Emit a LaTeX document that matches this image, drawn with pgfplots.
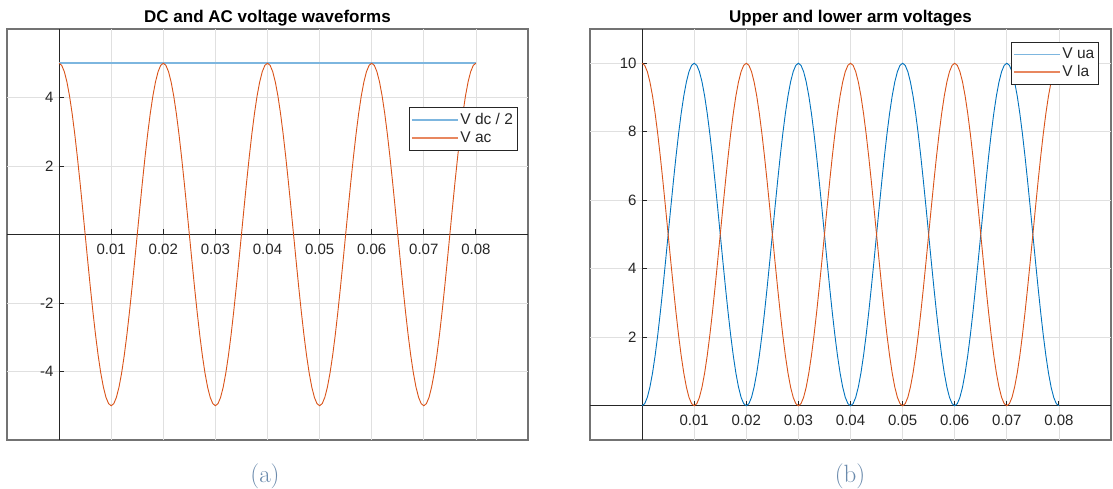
\documentclass[border=0pt]{standalone}
\usepackage{pgfplots}
\pgfplotsset{compat=1.18}
\usepackage{pgfplotstable}
\usepackage{fontspec}
\newfontfamily\arial{Liberation Sans}
\definecolor{mblue}{HTML}{0072BD}
\definecolor{morange}{HTML}{D95319}
\definecolor{lblue}{HTML}{7DB6DF}
\definecolor{lorange}{HTML}{E8875F}
\definecolor{capcol}{HTML}{6A8AAC}
\definecolor{txt}{HTML}{262626}

% t, V_ac, V_ua, V_la  (50 Hz, sampled every 0.5 ms)
\pgfplotstableread{
t vac vua vla
0 5 0 10
0.0005 4.9384 0.0616 9.9384
0.001 4.7553 0.2447 9.7553
0.0015 4.4550 0.5450 9.4550
0.002 4.0451 0.9549 9.0451
0.0025 3.5355 1.4645 8.5355
0.003 2.9389 2.0611 7.9389
0.0035 2.2700 2.7300 7.2700
0.004 1.5451 3.4549 6.5451
0.0045 0.7822 4.2178 5.7822
0.005 0 5 5
0.0055 -0.7822 5.7822 4.2178
0.006 -1.5451 6.5451 3.4549
0.0065 -2.2700 7.2700 2.7300
0.007 -2.9389 7.9389 2.0611
0.0075 -3.5355 8.5355 1.4645
0.008 -4.0451 9.0451 0.9549
0.0085 -4.4550 9.4550 0.5450
0.009 -4.7553 9.7553 0.2447
0.0095 -4.9384 9.9384 0.0616
0.010 -5 10 0
0.0105 -4.9384 9.9384 0.0616
0.011 -4.7553 9.7553 0.2447
0.0115 -4.4550 9.4550 0.5450
0.012 -4.0451 9.0451 0.9549
0.0125 -3.5355 8.5355 1.4645
0.013 -2.9389 7.9389 2.0611
0.0135 -2.2700 7.2700 2.7300
0.014 -1.5451 6.5451 3.4549
0.0145 -0.7822 5.7822 4.2178
0.015 0 5 5
0.0155 0.7822 4.2178 5.7822
0.016 1.5451 3.4549 6.5451
0.0165 2.2700 2.7300 7.2700
0.017 2.9389 2.0611 7.9389
0.0175 3.5355 1.4645 8.5355
0.018 4.0451 0.9549 9.0451
0.0185 4.4550 0.5450 9.4550
0.019 4.7553 0.2447 9.7553
0.0195 4.9384 0.0616 9.9384
0.020 5 0 10
0.0205 4.9384 0.0616 9.9384
0.021 4.7553 0.2447 9.7553
0.0215 4.4550 0.5450 9.4550
0.022 4.0451 0.9549 9.0451
0.0225 3.5355 1.4645 8.5355
0.023 2.9389 2.0611 7.9389
0.0235 2.2700 2.7300 7.2700
0.024 1.5451 3.4549 6.5451
0.0245 0.7822 4.2178 5.7822
0.025 0 5 5
0.0255 -0.7822 5.7822 4.2178
0.026 -1.5451 6.5451 3.4549
0.0265 -2.2700 7.2700 2.7300
0.027 -2.9389 7.9389 2.0611
0.0275 -3.5355 8.5355 1.4645
0.028 -4.0451 9.0451 0.9549
0.0285 -4.4550 9.4550 0.5450
0.029 -4.7553 9.7553 0.2447
0.0295 -4.9384 9.9384 0.0616
0.030 -5 10 0
0.0305 -4.9384 9.9384 0.0616
0.031 -4.7553 9.7553 0.2447
0.0315 -4.4550 9.4550 0.5450
0.032 -4.0451 9.0451 0.9549
0.0325 -3.5355 8.5355 1.4645
0.033 -2.9389 7.9389 2.0611
0.0335 -2.2700 7.2700 2.7300
0.034 -1.5451 6.5451 3.4549
0.0345 -0.7822 5.7822 4.2178
0.035 0 5 5
0.0355 0.7822 4.2178 5.7822
0.036 1.5451 3.4549 6.5451
0.0365 2.2700 2.7300 7.2700
0.037 2.9389 2.0611 7.9389
0.0375 3.5355 1.4645 8.5355
0.038 4.0451 0.9549 9.0451
0.0385 4.4550 0.5450 9.4550
0.039 4.7553 0.2447 9.7553
0.0395 4.9384 0.0616 9.9384
0.040 5 0 10
0.0405 4.9384 0.0616 9.9384
0.041 4.7553 0.2447 9.7553
0.0415 4.4550 0.5450 9.4550
0.042 4.0451 0.9549 9.0451
0.0425 3.5355 1.4645 8.5355
0.043 2.9389 2.0611 7.9389
0.0435 2.2700 2.7300 7.2700
0.044 1.5451 3.4549 6.5451
0.0445 0.7822 4.2178 5.7822
0.045 0 5 5
0.0455 -0.7822 5.7822 4.2178
0.046 -1.5451 6.5451 3.4549
0.0465 -2.2700 7.2700 2.7300
0.047 -2.9389 7.9389 2.0611
0.0475 -3.5355 8.5355 1.4645
0.048 -4.0451 9.0451 0.9549
0.0485 -4.4550 9.4550 0.5450
0.049 -4.7553 9.7553 0.2447
0.0495 -4.9384 9.9384 0.0616
0.050 -5 10 0
0.0505 -4.9384 9.9384 0.0616
0.051 -4.7553 9.7553 0.2447
0.0515 -4.4550 9.4550 0.5450
0.052 -4.0451 9.0451 0.9549
0.0525 -3.5355 8.5355 1.4645
0.053 -2.9389 7.9389 2.0611
0.0535 -2.2700 7.2700 2.7300
0.054 -1.5451 6.5451 3.4549
0.0545 -0.7822 5.7822 4.2178
0.055 0 5 5
0.0555 0.7822 4.2178 5.7822
0.056 1.5451 3.4549 6.5451
0.0565 2.2700 2.7300 7.2700
0.057 2.9389 2.0611 7.9389
0.0575 3.5355 1.4645 8.5355
0.058 4.0451 0.9549 9.0451
0.0585 4.4550 0.5450 9.4550
0.059 4.7553 0.2447 9.7553
0.0595 4.9384 0.0616 9.9384
0.060 5 0 10
0.0605 4.9384 0.0616 9.9384
0.061 4.7553 0.2447 9.7553
0.0615 4.4550 0.5450 9.4550
0.062 4.0451 0.9549 9.0451
0.0625 3.5355 1.4645 8.5355
0.063 2.9389 2.0611 7.9389
0.0635 2.2700 2.7300 7.2700
0.064 1.5451 3.4549 6.5451
0.0645 0.7822 4.2178 5.7822
0.065 0 5 5
0.0655 -0.7822 5.7822 4.2178
0.066 -1.5451 6.5451 3.4549
0.0665 -2.2700 7.2700 2.7300
0.067 -2.9389 7.9389 2.0611
0.0675 -3.5355 8.5355 1.4645
0.068 -4.0451 9.0451 0.9549
0.0685 -4.4550 9.4550 0.5450
0.069 -4.7553 9.7553 0.2447
0.0695 -4.9384 9.9384 0.0616
0.070 -5 10 0
0.0705 -4.9384 9.9384 0.0616
0.071 -4.7553 9.7553 0.2447
0.0715 -4.4550 9.4550 0.5450
0.072 -4.0451 9.0451 0.9549
0.0725 -3.5355 8.5355 1.4645
0.073 -2.9389 7.9389 2.0611
0.0735 -2.2700 7.2700 2.7300
0.074 -1.5451 6.5451 3.4549
0.0745 -0.7822 5.7822 4.2178
0.075 0 5 5
0.0755 0.7822 4.2178 5.7822
0.076 1.5451 3.4549 6.5451
0.0765 2.2700 2.7300 7.2700
0.077 2.9389 2.0611 7.9389
0.0775 3.5355 1.4645 8.5355
0.078 4.0451 0.9549 9.0451
0.0785 4.4550 0.5450 9.4550
0.079 4.7553 0.2447 9.7553
0.0795 4.9384 0.0616 9.9384
0.080 5 0 10
}\wave

\pgfplotsset{
  matfig/.style={
    scale only axis, width=521pt, height=411pt,
    axis lines=middle,
    axis line style={-, draw=txt, line width=0.9pt},
    axis background/.style={draw=black!55, line width=1.1pt},
    xmin=-0.01, xmax=0.09,
    scaled x ticks=false, scaled y ticks=false,
    xtick={0.01,0.02,0.03,0.04,0.05,0.06,0.07,0.08},
    xticklabels={0.01,0.02,0.03,0.04,0.05,0.06,0.07,0.08},
    grid=major,
    major grid style={draw=black!12, line width=0.7pt},
    tick align=inside, major tick length=5pt,
    tick style={draw=txt, line width=0.9pt},
    ticklabel style={font=\arial\fontsize{15}{18}\selectfont, text=txt},
    xticklabel style={yshift=-6pt},
    yticklabel style={xshift=-2pt},
    title style={font=\arial\bfseries\fontsize{17}{20}\selectfont, text=black, yshift=-7pt},
    legend cell align=left,
    legend image code/.code={\draw[#1, line width=1.3pt] (0pt,0pt) -- (46pt,0pt);},
    legend style={draw=txt, line width=0.7pt, fill=white, anchor=north east,
      font=\arial\fontsize{15.5}{17}\selectfont, text=txt,
      inner xsep=2pt, inner ysep=4pt, row sep=1.5pt},
  },
}

\begin{document}
\begin{tikzpicture}
\useasboundingbox (0,0) rectangle (1113pt,489pt);

\begin{axis}[matfig, at={(7pt,49pt)}, anchor=south west,
    ymin=-6, ymax=6, ytick={-4,-2,2,4}, yticklabels={-4,-2,2,4},
    title={DC and AC voltage waveforms},
    legend style={at={(0.9795,0.8095)}}]
\addplot[draw=lblue, line width=1.6pt] coordinates {(0,5) (0.08,5)};
\addlegendentry{V dc / 2}
\addplot[draw=morange, line width=0.9pt, legend image post style={draw=lorange}] table[x=t, y=vac] {\wave};
\addlegendentry{V ac}
\end{axis}

\begin{axis}[matfig, at={(590pt,49pt)}, anchor=south west,
    ymin=-1, ymax=11, ytick={2,4,6,8,10}, yticklabels={2,4,6,8,10},
    title={Upper and lower arm voltages},
    legend style={at={(0.9764,0.969)}}]
\addplot[draw=mblue, line width=0.9pt, legend image post style={draw=lblue}] table[x=t, y=vua] {\wave};
\addlegendentry{V ua}
\addplot[draw=morange, line width=0.9pt, legend image post style={draw=lorange}] table[x=t, y=vla] {\wave};
\addlegendentry{V la}
\end{axis}

\node[anchor=base, text=capcol, font=\fontsize{25}{30}\selectfont] at (265pt,6pt) {(a)};
\node[anchor=base, text=capcol, font=\fontsize{25}{30}\selectfont] at (850pt,6pt) {(b)};
\end{tikzpicture}
\end{document}
